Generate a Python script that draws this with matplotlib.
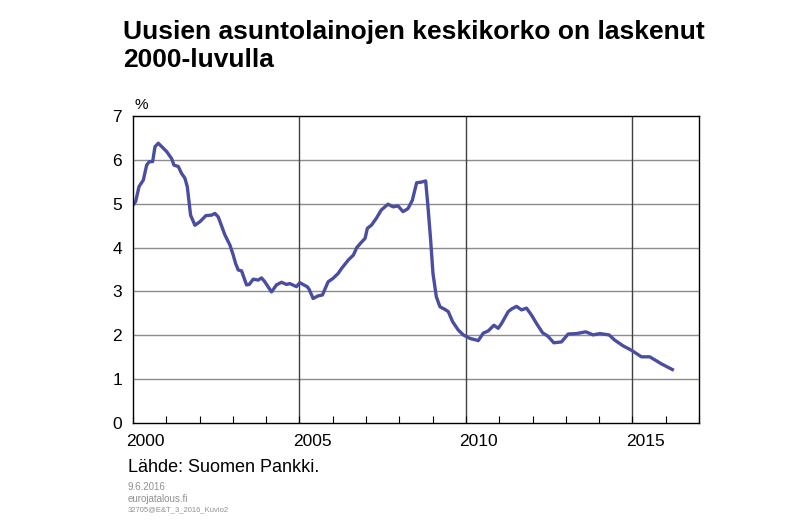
import matplotlib.pyplot as plt

plt.rcParams['font.family'] = ['Liberation Sans', 'DejaVu Sans']

# dates as decimal years, values in %
dates = [2000.00, 2000.08, 2000.18, 2000.31, 2000.41, 2000.49, 2000.59, 2000.66, 2000.76,
         2001.01, 2001.16, 2001.23, 2001.36, 2001.46, 2001.56, 2001.63, 2001.73, 2001.86,
         2002.01, 2002.19, 2002.36, 2002.46, 2002.56, 2002.76, 2002.91,
         2003.01, 2003.08, 2003.16, 2003.26, 2003.41, 2003.49, 2003.61, 2003.76, 2003.86, 2003.96,
         2004.16, 2004.31, 2004.46, 2004.61, 2004.71, 2004.91,
         2005.01, 2005.13, 2005.23, 2005.29, 2005.41, 2005.56, 2005.69, 2005.86,
         2006.01, 2006.16, 2006.27, 2006.47, 2006.62, 2006.72, 2006.87, 2006.97,
         2007.04, 2007.16, 2007.31, 2007.46, 2007.66, 2007.81, 2007.96,
         2008.11, 2008.26, 2008.39, 2008.52, 2008.64, 2008.79, 2008.86, 2008.94,
         2009.01, 2009.11, 2009.22, 2009.37, 2009.47, 2009.60, 2009.77, 2009.92,
         2010.12, 2010.37, 2010.52, 2010.67, 2010.84, 2010.97,
         2011.07, 2011.27, 2011.37, 2011.52, 2011.67, 2011.82, 2011.97,
         2012.12, 2012.30, 2012.46, 2012.64, 2012.87,
         2013.07, 2013.32, 2013.60, 2013.82,
         2014.02, 2014.30, 2014.47, 2014.72, 2014.97,
         2015.27, 2015.52, 2015.87, 2016.20]
rates = [4.97, 5.05, 5.39, 5.54, 5.88, 5.96, 5.96, 6.30, 6.38,
         6.19, 6.03, 5.88, 5.85, 5.69, 5.58, 5.39, 4.74, 4.51,
         4.59, 4.73, 4.74, 4.78, 4.70, 4.29, 4.06,
         3.83, 3.64, 3.49, 3.47, 3.15, 3.16, 3.28, 3.26, 3.31, 3.22,
         2.99, 3.15, 3.21, 3.16, 3.18, 3.11,
         3.20, 3.15, 3.11, 3.05, 2.84, 2.90, 2.92, 3.22,
         3.30, 3.41, 3.53, 3.72, 3.83, 4.00, 4.13, 4.21,
         4.44, 4.51, 4.67, 4.86, 4.99, 4.93, 4.95,
         4.82, 4.89, 5.08, 5.48, 5.49, 5.52, 4.93, 4.17,
         3.41, 2.88, 2.65, 2.59, 2.54, 2.31, 2.12, 2.01,
         1.93, 1.88, 2.05, 2.10, 2.23, 2.16,
         2.27, 2.54, 2.60, 2.66, 2.58, 2.62, 2.46,
         2.27, 2.06, 1.98, 1.83, 1.85,
         2.03, 2.04, 2.08, 2.01,
         2.04, 2.01, 1.89, 1.76, 1.66,
         1.51, 1.51, 1.35, 1.22]

year_labels = [2000, 2005, 2010, 2015]

fig = plt.figure(figsize=(8, 5.21), dpi=100)
ax = fig.add_axes([0.16625, 0.188, 0.7075, 0.5893])

ax.plot(dates, rates, color='#4b4ea0', lw=2.4, solid_joinstyle='round')

ax.set_xlim(2000, 2017)
ax.set_ylim(0, 7)
ax.set_yticks(range(8))
ax.tick_params(axis='y', length=0, labelsize=12.5, pad=8)
for y in range(1, 7):
    ax.axhline(y, color='#8c8c8c', lw=1, zorder=0)
for yr in [2005, 2010, 2015]:
    ax.axvline(yr, color='#404040', lw=1, zorder=0)

ax.set_xticks(range(2000, 2018))
ax.set_xticklabels([])
ax.tick_params(axis='x', which='major', direction='in', length=5, color='black')
ax.set_xticks([y + 0.38 for y in year_labels], minor=True)
ax.set_xticklabels([str(y) for y in year_labels], minor=True)
ax.tick_params(axis='x', which='minor', length=0, labelsize=12.5, pad=8)

for s in ax.spines.values():
    s.set_color('black')
    s.set_linewidth(1)

fig.text(0.154, 0.962, 'Uusien asuntolainojen keskikorko on laskenut\n2000-luvulla',
         fontsize=19, fontweight='bold', va='top', ha='left', linespacing=1.2)
fig.text(0.168, 0.785, '%', fontsize=11, ha='left', va='bottom')
fig.text(0.16, 0.102, 'Lähde: Suomen Pankki.', fontsize=13, ha='left', va='center')
fig.text(0.16, 0.065, '9.6.2016', fontsize=7, color='#909090', ha='left', va='center')
fig.text(0.16, 0.042, 'eurojatalous.fi', fontsize=7, color='#909090', ha='left', va='center')
fig.text(0.16, 0.021, '32705@E&T_3_2016_Kuvio2', fontsize=5.5, color='#909090', ha='left', va='center')

fig.savefig('out.png', dpi=100)
